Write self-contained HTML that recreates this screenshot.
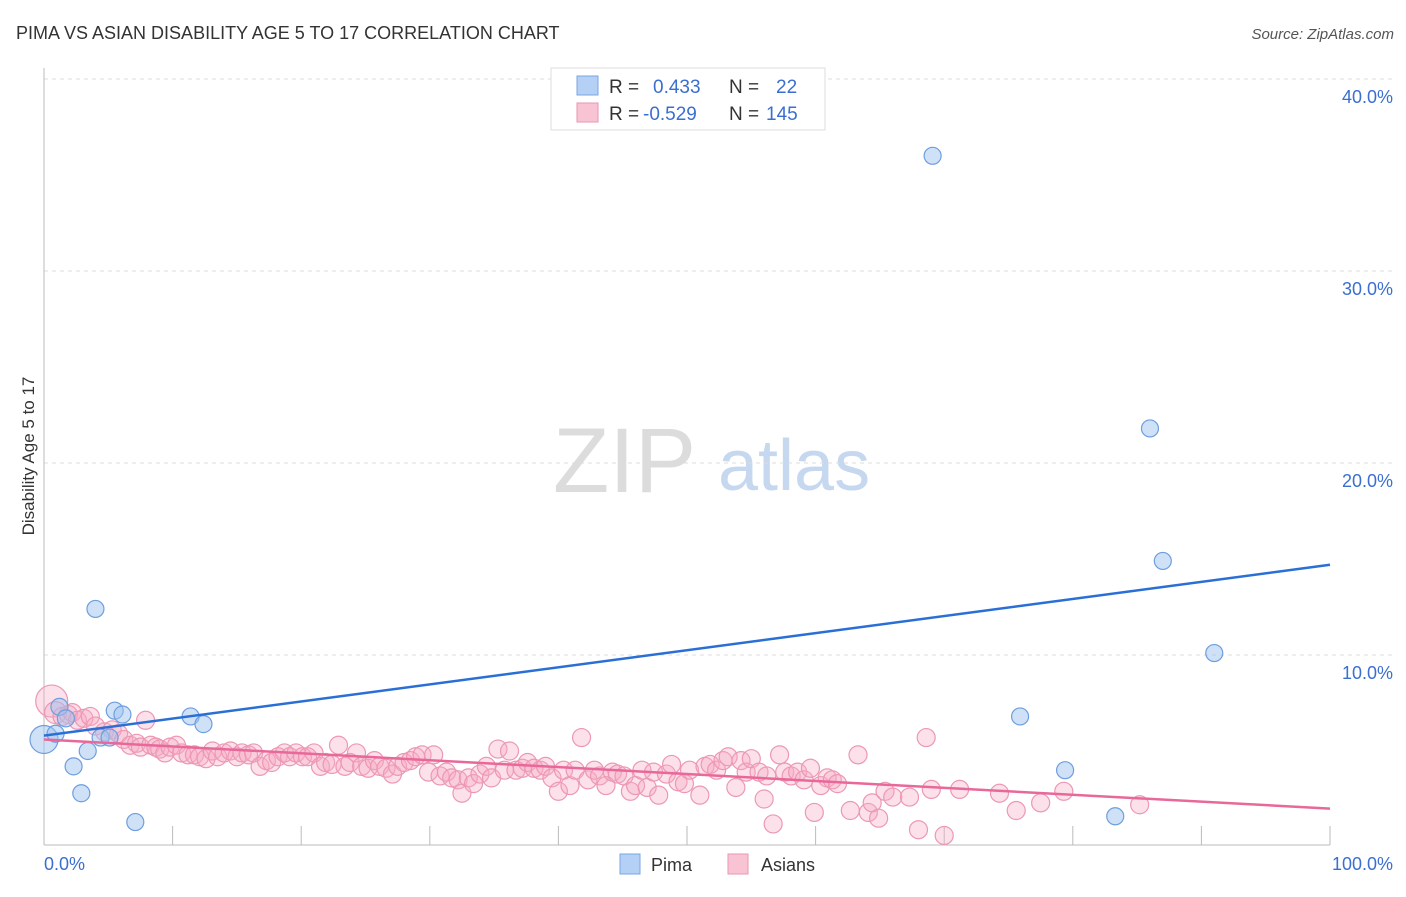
<!DOCTYPE html>
<html><head><meta charset="utf-8">
<style>
body{margin:0;background:#fff;font-family:"Liberation Sans",sans-serif;}
svg text{font-family:"Liberation Sans",sans-serif;}
</style></head>
<body>
<svg id="chart" width="1406" height="892">
<text x="16" y="39" font-size="18" fill="#333">PIMA VS ASIAN DISABILITY AGE 5 TO 17 CORRELATION CHART</text>
<text x="1394" y="39" font-size="15" fill="#555" font-style="italic" text-anchor="end">Source: ZipAtlas.com</text>
<text x="34" y="456" font-size="17" fill="#333" text-anchor="middle" transform="rotate(-90 34 456)">Disability Age 5 to 17</text>
<g>
<text x="553" y="492" font-size="92" font-family="Liberation Serif" fill="#dcdcdc">ZIP</text>
<text x="718" y="490" font-size="72" fill="#c6d8f0">atlas</text>
</g>
<g id="grid"></g>
<g id="axes"></g>
<g id="pts"></g>
<g id="trends"></g>
<g>
<rect x="551" y="68" width="274" height="62" fill="#fff" stroke="#ddd"/>
<rect x="577" y="76" width="21" height="19" fill="#b4d0f4" stroke="#7aa6e0"/>
<rect x="577" y="103" width="21" height="19" fill="#f8c4d4" stroke="#ea96b2"/>
<text x="609" y="93" font-size="19" fill="#333">R = </text><text x="653" y="93" font-size="19" fill="#3a6fd0">0.433</text>
<text x="729" y="93" font-size="19" fill="#333">N = </text><text x="776" y="93" font-size="19" fill="#3a6fd0">22</text>
<text x="609" y="120" font-size="19" fill="#333">R = </text><text x="643" y="120" font-size="19" fill="#3a6fd0">-0.529</text>
<text x="729" y="120" font-size="19" fill="#333">N = </text><text x="766" y="120" font-size="19" fill="#3a6fd0">145</text>
</g>
<g>
<rect x="620" y="854" width="20" height="20" fill="#b4d0f4" stroke="#7aa6e0"/>
<text x="651" y="871" font-size="18" fill="#333">Pima</text>
<rect x="728" y="854" width="20" height="20" fill="#f8c4d4" stroke="#ea96b2"/>
<text x="761" y="871" font-size="18" fill="#333">Asians</text>
</g>
</svg>
<script>
const yTicks=[10,20,30,40];
const yTickLabels=["10.0%","20.0%","30.0%","40.0%"];
const xTickLabels=["0.0%","100.0%"];
const pimaX=[0,0.9,1.2,2.3,2.9,3.4,4.0,4.4,5.1,5.5,6.1,7.1,11.4,12.4,69.1,86.0,87.0,91.0,75.9,79.4,83.3,1.7];
const pimaY=[5.6,5.9,7.3,4.2,2.8,5.0,12.4,5.7,5.7,7.1,6.9,1.3,6.8,6.4,36.0,21.8,14.9,10.1,6.8,4.0,1.6,6.7];
const asianX=[0.6,0.9,1.4,1.9,2.2,2.6,3.1,3.6,4.0,4.7,5.3,5.8,6.2,6.7,7.2,7.5,7.9,8.3,8.7,9.0,9.4,9.8,10.3,10.7,11.2,11.7,12.1,12.6,13.1,13.5,14.0,14.5,15.0,15.4,15.9,16.3,16.8,17.3,17.7,18.2,18.7,19.1,19.6,20.1,20.5,21.0,21.5,21.9,22.4,22.9,23.4,23.8,24.3,24.7,25.2,25.7,26.1,26.6,27.1,27.5,28.0,28.5,28.9,29.4,29.9,30.3,30.8,31.3,31.7,32.2,32.5,33.0,33.4,33.9,34.4,34.8,35.3,35.8,36.2,36.7,37.2,37.6,38.1,38.6,39.0,39.5,40.0,40.4,40.9,41.3,41.8,42.3,42.8,43.2,43.7,44.2,44.6,45.1,45.6,46.0,46.5,46.9,47.4,47.8,48.4,48.8,49.3,49.8,50.2,51.0,51.4,51.8,52.3,52.8,53.2,53.8,54.2,54.6,55.0,55.6,56.0,56.2,56.7,57.2,57.6,58.1,58.6,59.1,59.6,59.9,60.4,60.9,61.3,61.7,62.7,63.3,64.1,64.4,64.9,65.4,66.0,67.3,68.0,68.6,69.0,70.0,71.2,74.3,75.6,77.5,79.3,85.2];
const asianY=[7.6,7.0,6.8,6.9,7.0,6.6,6.7,6.8,6.3,6.0,6.1,5.9,5.6,5.3,5.4,5.2,6.6,5.3,5.2,5.1,4.9,5.2,5.3,4.9,4.8,4.8,4.7,4.6,5.0,4.7,4.9,5.0,4.7,4.9,4.8,4.9,4.2,4.5,4.4,4.7,4.9,4.7,4.9,4.7,4.7,4.9,4.2,4.4,4.3,5.3,4.2,4.4,4.9,4.2,4.1,4.5,4.2,4.1,3.8,4.2,4.4,4.5,4.7,4.8,3.9,4.8,3.7,3.9,3.6,3.5,2.8,3.6,3.3,3.8,4.2,3.6,5.1,4.0,5.0,4.0,4.1,4.4,4.1,4.0,4.2,3.6,2.9,4.0,3.2,4.0,5.7,3.5,4.0,3.7,3.2,3.9,3.8,3.7,2.9,3.2,4.0,3.1,3.9,2.7,3.8,4.3,3.4,3.3,4.0,2.7,4.2,4.3,4.0,4.5,4.7,3.1,4.5,3.9,4.6,3.9,2.5,3.7,1.2,4.8,3.9,3.7,3.9,3.5,4.1,1.8,3.2,3.6,3.5,3.3,1.9,4.8,1.8,2.3,1.5,2.9,2.6,2.6,0.9,5.7,3.0,0.6,3.0,2.8,1.9,2.3,2.9,2.2,3.9,1.5,1.3,11.7,8.8];
const r0=[16,0];
const X=v=>44+v*12.86, Y=v=>847-v*19.2;
const ns="http://www.w3.org/2000/svg";
function mk(tag,attrs,parent){const e=document.createElementNS(ns,tag);for(const k in attrs)e.setAttribute(k,attrs[k]);document.getElementById(parent).appendChild(e);return e;}
yTicks.forEach((t,i)=>{
 const l=mk('line',{x1:44,x2:1394,y1:Y(t),y2:Y(t),stroke:'#ddd','stroke-dasharray':'4,4'},'grid');
 
 
 const tx=mk('text',{x:1393,y:Y(t)+24,'font-size':18,fill:'#3a6fd0','text-anchor':'end'},'grid');
 tx.textContent=yTickLabels[i];
 
 
});
const ax=mk('line',{x1:44,x2:44,y1:68,y2:845,stroke:'#bbb'},'axes');


const bx=mk('line',{x1:44,x2:1330,y1:845,y2:845,stroke:'#bbb'},'axes');


for(let i=0;i<=10;i++){const t=mk('line',{x1:X(i*10),x2:X(i*10),y1:826,y2:845,stroke:'#bbb'},'axes');
 
 }
const xl=[[X(0),'start'],[1393,'end']];
xTickLabels.forEach((s,i)=>{const t=mk('text',{x:xl[i][0],y:870,'font-size':18,fill:'#3a6fd0','text-anchor':xl[i][1]},'axes');t.textContent=s;
 
 });
asianX.forEach((x,i)=>{const c=mk('circle',{cx:X(x),cy:Y(asianY[i]),r:i<2?r0[0]-i*5:9,fill:'rgba(245,170,196,0.35)',stroke:'#ec98b4','stroke-width':1.2},'pts');
 
 });
pimaX.forEach((x,i)=>{const c=mk('circle',{cx:X(x),cy:Y(pimaY[i]),r:i==0?14:8.5,fill:'rgba(160,196,240,0.5)',stroke:'#6e9ede','stroke-width':1.2},'pts');
 
 });
const tp=mk('line',{x1:X(0),y1:Y(5.8),x2:X(100),y2:Y(14.7),stroke:'#2a6fd6','stroke-width':2.5},'trends');


const ta=mk('line',{x1:X(0),y1:Y(5.6),x2:X(100),y2:Y(2.0),stroke:'#e8689a','stroke-width':2.5},'trends');


</script>
</body></html>
